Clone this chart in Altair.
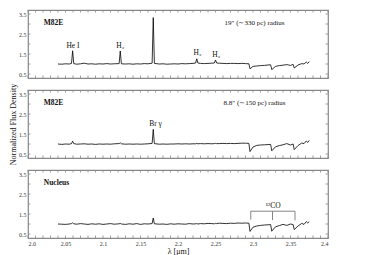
import altair as alt
import pandas as pd

FONT = "Liberation Serif"

wavelength = [2.040, 2.045, 2.050, 2.055, 2.058, 2.0595, 2.061, 2.065, 2.070, 2.075,
              2.080, 2.085, 2.090, 2.095, 2.100, 2.105, 2.110, 2.115, 2.1215, 2.123,
              2.1245, 2.130, 2.135, 2.140, 2.145, 2.150, 2.155, 2.160, 2.1655, 2.167,
              2.1685, 2.175, 2.180, 2.185, 2.190, 2.195, 2.200, 2.205, 2.210, 2.215,
              2.220, 2.2235, 2.225, 2.2265, 2.230, 2.235, 2.240, 2.245, 2.2485, 2.250,
              2.2515, 2.255, 2.260, 2.265, 2.270, 2.275, 2.280, 2.285, 2.290, 2.2945,
              2.296, 2.300, 2.305, 2.310, 2.315, 2.320, 2.3235, 2.325, 2.330, 2.335,
              2.340, 2.345, 2.350, 2.3535, 2.355, 2.360, 2.365, 2.368, 2.371, 2.373,
              2.375]

flux_19 = [1.00, 0.99, 1.01, 1.00, 1.03, 1.66, 1.02, 0.99, 1.01, 1.04,
           1.00, 1.01, 0.99, 1.01, 1.00, 1.02, 1.00, 1.01, 1.02, 1.65,
           1.01, 1.00, 1.01, 0.99, 1.01, 1.00, 1.02, 1.01, 1.04, 3.32,
           1.03, 1.00, 1.01, 0.99, 1.00, 1.01, 1.00, 1.02, 1.01, 1.02,
           1.03, 1.05, 1.26, 1.05, 1.03, 1.02, 1.03, 1.04, 1.05, 1.20,
           1.05, 1.04, 1.03, 1.02, 1.03, 1.03, 1.02, 1.03, 1.02, 1.01,
           0.76, 0.88, 0.90, 0.92, 0.93, 0.95, 0.96, 0.72, 0.88, 0.92,
           0.94, 0.97, 0.93, 0.98, 0.80, 0.95, 1.02, 1.00, 1.10, 1.03,
           1.12]

flux_88 = [1.00, 0.98, 1.00, 0.99, 1.02, 1.14, 1.02, 0.99, 1.00, 1.01,
           0.99, 1.00, 0.98, 1.00, 0.99, 1.00, 0.99, 1.01, 1.02, 1.06,
           1.01, 0.99, 1.00, 0.99, 1.00, 0.99, 1.00, 1.01, 1.03, 1.73,
           1.02, 0.99, 1.00, 0.99, 1.00, 1.00, 1.01, 1.00, 1.01, 1.00,
           1.01, 1.01, 1.03, 1.01, 1.02, 1.01, 1.02, 1.01, 1.02, 1.03,
           1.02, 1.02, 1.03, 1.02, 1.03, 1.02, 1.03, 1.04, 1.04, 1.03,
           0.62, 0.85, 0.93, 0.95, 0.96, 0.97, 0.98, 0.66, 0.86, 0.92,
           0.96, 1.02, 0.95, 1.00, 0.72, 0.92, 1.05, 1.02, 1.15, 1.08,
           1.18]

flux_nuc = [1.00, 0.99, 0.98, 1.00, 1.02, 1.06, 1.01, 0.99, 1.02, 1.00,
            0.98, 1.01, 0.99, 1.01, 0.98, 1.00, 1.02, 0.99, 1.01, 1.03,
            1.00, 0.98, 1.01, 0.99, 1.02, 0.98, 1.01, 1.00, 1.02, 1.30,
            1.01, 0.99, 1.00, 0.98, 1.01, 0.99, 1.01, 1.00, 0.99, 1.02,
            1.00, 1.01, 1.02, 1.00, 1.02, 1.01, 1.03, 1.02, 1.01, 1.03,
            1.02, 1.04, 1.03, 1.02, 1.04, 1.03, 1.05, 1.04, 1.05, 1.04,
            0.63, 0.84, 0.90, 0.93, 0.95, 0.96, 0.97, 0.64, 0.86, 0.92,
            0.98, 0.93, 1.00, 0.97, 0.72, 0.90, 1.03, 0.98, 1.12, 1.05,
            1.12]

panel_names = ["M82E", "M82E", "Nucleus"]
radius_texts = ["19″ (∼330 pc) radius", "8.8″ (∼150 pc) radius", ""]

# line annotations per panel: (x, y, text)
line_labels = [
    [(2.060, 1.90, "He I"), (2.123, 1.90, "H₂"), (2.226, 1.55, "H₂"), (2.251, 1.45, "H₂")],
    [(2.170, 2.00, "Br γ")],
    [(2.327, 1.92, "¹²CO")],
]

# 12CO bracket segments (x, y, x2, y2)
co_bracket = [(2.297, 1.64, 2.356, 1.64), (2.297, 1.64, 2.297, 1.22),
              (2.326, 1.64, 2.326, 1.20), (2.356, 1.64, 2.356, 1.18)]

x_major = [2.0, 2.05, 2.1, 2.15, 2.2, 2.25, 2.3, 2.35, 2.4]
x_minor = [round(2.0 + 0.01 * i, 2) for i in range(41)]
y_labels = [0.5, 1.5, 2.5, 3.5]
y_ticks = [0.5, 1.0, 1.5, 2.0, 2.5, 3.0, 3.5]

W, H = 300, 68
TICK = 2.5
FRAME = "#888888"
xs = alt.Scale(domain=[2.0, 2.4], nice=False, zero=False)
ys = alt.Scale(domain=[0.3, 3.7], nice=False, zero=False)


def panel(i, flux, show_x, show_ytitle):
    df = pd.DataFrame({"wl": wavelength, "flux": flux})
    if show_x:
        xaxis = alt.Axis(values=x_major, ticks=False, domain=False, grid=False,
                         labelExpr="datum.value == 2 ? '2.0' : format(datum.value, '.2~f')",
                         labelFont=FONT, labelFontSize=6, labelColor="#333", labelPadding=2,
                         labelOverlap=False,
                         title="λ [μm]", titleFont=FONT, titleFontSize=8,
                         titleFontWeight="normal", titlePadding=1, titleColor="#111")
    else:
        xaxis = None
    yargs = dict(values=y_labels, ticks=False, domain=False, grid=False,
                 labelExpr="format(datum.value, '.1f')", labelOverlap=False,
                 labelFont=FONT, labelFontSize=6, labelColor="#333", labelPadding=2)
    if show_ytitle:
        yargs.update(title="Normalized Flux Density", titleFont=FONT, titleFontSize=8,
                     titleFontWeight="normal", titlePadding=1, titleColor="#111")
    else:
        yargs.update(title=None)
    yaxis = alt.Axis(**yargs)

    def X(f):
        return alt.X(f, scale=xs, axis=xaxis)

    def Y(f):
        return alt.Y(f, scale=ys, axis=yaxis)

    line = alt.Chart(df).mark_line(color="black", strokeWidth=0.8).encode(
        x=X("wl:Q"), y=Y("flux:Q"))

    xt = pd.DataFrame({"tx": x_minor})
    yt = pd.DataFrame({"ty": y_ticks})
    xtop = alt.Chart(xt).mark_rule(color=FRAME, strokeWidth=0.8).encode(
        x=X("tx:Q"), y=alt.value(0), y2=alt.value(TICK))
    xbot = alt.Chart(xt).mark_rule(color=FRAME, strokeWidth=0.8).encode(
        x=X("tx:Q"), y=alt.value(H), y2=alt.value(H - TICK))
    yl = alt.Chart(yt).mark_rule(color=FRAME, strokeWidth=0.8).encode(
        y=Y("ty:Q"), x=alt.value(0), x2=alt.value(TICK))
    yr = alt.Chart(yt).mark_rule(color=FRAME, strokeWidth=0.8).encode(
        y=Y("ty:Q"), x=alt.value(W), x2=alt.value(W - TICK))

    name_df = pd.DataFrame({"lx": [2.021], "ly": [3.03], "label": [panel_names[i]]})
    name = alt.Chart(name_df).mark_text(font=FONT, fontSize=7.5, fontWeight="bold",
                                        align="left", baseline="middle", color="#111").encode(
        x=X("lx:Q"), y=Y("ly:Q"), text="label:N")

    layers = [line, xtop, xbot, yl, yr, name]

    if radius_texts[i]:
        rdf = pd.DataFrame({"lx": [2.302], "ly": [3.03], "label": [radius_texts[i]]})
        layers.append(alt.Chart(rdf).mark_text(font=FONT, fontSize=7, align="center",
                                               baseline="middle", color="#111").encode(
            x=X("lx:Q"), y=Y("ly:Q"), text="label:N"))

    ldf = pd.DataFrame(line_labels[i], columns=["lx", "ly", "label"])
    layers.append(alt.Chart(ldf).mark_text(font=FONT, fontSize=7.5, align="center",
                                           baseline="middle", color="#111").encode(
        x=X("lx:Q"), y=Y("ly:Q"), text="label:N"))

    if i == 2:
        bdf = pd.DataFrame(co_bracket, columns=["bx", "by", "bx2", "by2"])
        layers.append(alt.Chart(bdf).mark_rule(color="#777", strokeWidth=0.9).encode(
            x=X("bx:Q"), y=Y("by:Q"), x2="bx2:Q", y2="by2:Q"))

    return alt.layer(*layers).properties(width=W, height=H)


chart = alt.vconcat(
    panel(0, flux_19, False, False),
    panel(1, flux_88, False, True),
    panel(2, flux_nuc, True, False),
    spacing=3,
).configure_view(stroke=FRAME, strokeWidth=1.2).properties(
    padding={"left": 0, "top": 1, "right": 5, "bottom": 0}
)

chart.save("out.html", embed_options={"renderer": "svg", "actions": False})
